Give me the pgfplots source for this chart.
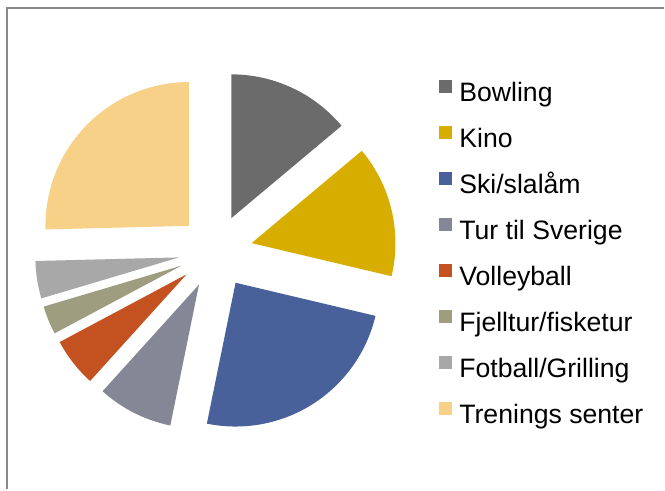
\documentclass[border=0pt]{standalone}
\usepackage{pgfplots}
\usepackage{pgfplotstable}
\pgfplotsset{compat=1.18}
\usepackage{fontspec}
\setmainfont{Liberation Sans}

\definecolor{cBowling}{RGB}{107,107,107}
\definecolor{cKino}{RGB}{215,173,0}
\definecolor{cSki}{RGB}{73,97,155}
\definecolor{cTur}{RGB}{133,135,150}
\definecolor{cVolley}{RGB}{195,82,32}
\definecolor{cFjell}{RGB}{158,157,128}
\definecolor{cFotball}{RGB}{168,168,168}
\definecolor{cTrening}{RGB}{246,209,135}
\definecolor{frame}{RGB}{136,136,136}

% share of each activity, in percent
\pgfplotstableread[col sep=comma]{
name,value,color
Bowling,13.9,cBowling
Kino,14.8,cKino
Ski/slalåm,24.5,cSki
Tur til Sverige,8.5,cTur
Volleyball,5.5,cVolley
Fjelltur/fisketur,3.2,cFjell
Fotball/Grilling,4.2,cFotball
Trenings senter,25.4,cTrening
}\piedata

\begin{document}
\begin{tikzpicture}
\begin{axis}[
  hide axis, scale only axis,
  width=498.75pt, height=367.5pt,
  xmin=0, xmax=665, ymin=0, ymax=490,
  clip=false,
  legend image code/.code={\fill[#1] (0pt,1.5pt) rectangle (9.75pt,11.25pt);},
  legend cell align=left,
  legend style={draw=none, fill=none, inner sep=0pt, outer sep=0pt,
    at={(0.6617,0.4791)}, anchor=west,
    font=\fontsize{20}{24}\selectfont,
    nodes={inner sep=0pt, text height=14.5pt, text depth=4.5pt},
    row sep=13.8pt, column sep=5.25pt},
]
\path (rel axis cs:0,0) rectangle (rel axis cs:1,1);
\draw[frame, line width=1.5pt] (axis cs:7,0) -- (axis cs:7,482) -- (axis cs:665,482);
\gdef\cum{0}
\pgfplotsinvokeforeach{0,...,7}{
  \pgfplotstablegetelem{#1}{value}\of\piedata \let\v\pgfplotsretval
  \pgfplotstablegetelem{#1}{name}\of\piedata \let\nm\pgfplotsretval
  \pgfplotstablegetelem{#1}{color}\of\piedata \let\cl\pgfplotsretval
  \pgfmathsetmacro\a{\cum*3.6}
  \pgfmathsetmacro\b{(\cum+\v)*3.6}
  \pgfmathsetmacro\m{(\a+\b)/2}
  \pgfmathsetmacro\ax{216+37*sin(\m)}
  \pgfmathsetmacro\ay{238+37*cos(\m)}
  \pgfmathsetmacro\newcum{\cum+\v}\global\let\cum\newcum
  \edef\doplot{\noexpand\addplot[fill=\cl, draw=none, domain=\a:\b, samples=60, variable=\noexpand\t]
     ({\ax+144*sin(\noexpand\t)}, {\ay+144*cos(\noexpand\t)}) -- (axis cs:\ax,\ay) -- cycle;
     \noexpand\addlegendentry{\nm}}
  \doplot
}
\end{axis}
\end{tikzpicture}
\end{document}
